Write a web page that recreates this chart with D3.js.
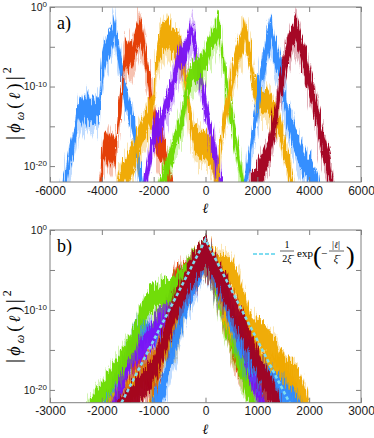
<!DOCTYPE html>
<html>
<head>
<meta charset="utf-8">
<script src="https://cdn.jsdelivr.net/npm/d3@7/dist/d3.min.js"></script>
<style>
  body { margin: 0; background: #fff; }
  svg text { font-family: "Liberation Sans", Arial, sans-serif; }
  svg .serif { font-family: "Liberation Serif", "DejaVu Serif", serif; }
  svg .ell { font-family: "DejaVu Serif", serif; font-style: italic; }
</style>
</head>
<body>
<div id="plot"></div>
<script>
// colours of the eight wave functions, in drawing order (last on top)
const seriesColors = ["#2e8bff", "#e43a00", "#f0a900", "#7a12f5", "#6cdc00", "#f0a900", "#2e8bff", "#a3001f"];
// peak positions (panel b is the same data shifted by these)
const peakCenters = [-3530, -2530, -1500, -530, 500, 1520, 2510, 3490];
// decades between upper envelope and lower edge of each noisy band
const spreads = [3, 3.5, 3.5, 3, 3, 3, 3.5, 3.5];

// upper envelopes: [ell, log10 |phi|^2]
const blue1 = [[-5600,-23],[-5490,-21.5],[-5360,-19.6],[-5230,-17.3],[-5100,-15.6],[-4970,-13.4],[-4900,-11.8],[-4840,-11.2],[-4760,-11.9],[-4680,-11.1],[-4600,-11.7],[-4520,-10.9],[-4440,-11.8],[-4360,-11.3],[-4280,-12.0],[-4200,-11.2],[-4100,-11.6],[-4040,-8.5],[-4000,-6.4],[-3880,-4.4],[-3780,-3.6],[-3690,-3.0],[-3600,-2.2],[-3530,-0.9],[-3470,-1.8],[-3370,-3.9],[-3240,-6.9],[-3110,-9.4],[-2980,-11.0],[-2850,-12.3],[-2750,-14.3],[-2660,-16.2],[-2560,-18.5],[-2460,-20.7],[-2380,-23]];
const red = [[-4200,-23],[-4100,-21.5],[-4010,-18.8],[-3950,-16.2],[-3880,-15.6],[-3800,-16.4],[-3720,-15.8],[-3640,-16.6],[-3560,-15.9],[-3480,-16.8],[-3420,-15.0],[-3360,-12.3],[-3240,-9.2],[-3150,-5.4],[-3080,-4.0],[-3000,-4.6],[-2920,-3.8],[-2840,-4.5],[-2760,-3.6],[-2640,-2.3],[-2530,-0.9],[-2450,-1.8],[-2370,-3.5],[-2210,-6.9],[-2080,-10.6],[-1950,-13.8],[-1850,-15.0],[-1750,-15.8],[-1650,-15.6],[-1550,-17.0],[-1420,-19.5],[-1300,-21.5],[-1220,-23]];
const orange1 = [[-3450,-23],[-3360,-20.9],[-3200,-19.4],[-3050,-18.6],[-2900,-17.9],[-2790,-17.2],[-2650,-15.8],[-2530,-14.8],[-2400,-13.6],[-2270,-12.8],[-2150,-11.8],[-2010,-10.6],[-1940,-8.0],[-1880,-5.0],[-1820,-4.0],[-1720,-2.6],[-1620,-2.2],[-1500,-1.3],[-1380,-2.1],[-1250,-2.7],[-1100,-3.0],[-990,-3.7],[-860,-5.5],[-730,-8.1],[-600,-12.0],[-470,-14.5],[-340,-15.2],[-200,-15.7],[-60,-15.3],[100,-16.2],[250,-16.9],[380,-18.6],[480,-21],[580,-23]];
const purple = [[-2450,-23],[-2340,-21.5],[-2240,-19.4],[-2140,-17.3],[-2010,-14.8],[-1890,-13.6],[-1760,-13.4],[-1620,-12.2],[-1500,-10.6],[-1380,-9.6],[-1240,-8.1],[-1110,-6.0],[-1000,-4.9],[-920,-4.4],[-820,-4.6],[-730,-3.9],[-630,-2.6],[-530,-1.1],[-450,-2.5],[-340,-5.2],[-240,-6.8],[-150,-8.1],[-50,-9.9],[50,-11.5],[140,-13.0],[240,-14.8],[330,-16.4],[430,-18.2],[530,-19.8],[620,-21.5],[700,-23]];
const green = [[-1850,-23],[-1760,-21.5],[-1560,-19.5],[-1370,-17.7],[-1240,-16.2],[-1110,-14.8],[-980,-13.4],[-860,-11.9],[-760,-9.8],[-660,-8.1],[-560,-7.3],[-470,-6.9],[-340,-6.4],[-210,-6.0],[-100,-5.7],[-20,-5.2],[80,-4.3],[170,-3.5],[270,-2.8],[370,-2.2],[500,-0.9],[570,-2.0],[630,-3.9],[750,-6.9],[850,-9.0],[950,-11.0],[1040,-12.8],[1140,-14.8],[1240,-16.8],[1330,-18.6],[1460,-21.5],[1520,-23]];
const orange2 = [[350,-23],[430,-21.5],[500,-19.0],[560,-16.5],[660,-14.2],[750,-12.3],[850,-10.5],[950,-8.9],[1040,-7.4],[1140,-6.0],[1240,-4.6],[1330,-3.5],[1430,-2.4],[1520,-1.1],[1600,-2.6],[1720,-4.8],[1850,-8.0],[1980,-10.0],[2100,-10.4],[2230,-10.6],[2360,-10.1],[2480,-10.9],[2600,-11.5],[2720,-12.4],[2880,-13.6],[3000,-15.5],[3130,-17.3],[3260,-19.2],[3390,-21.5],[3450,-23]];
const blue2 = [[1380,-23],[1460,-21.5],[1590,-19.4],[1720,-17.3],[1850,-13.6],[1980,-11.0],[2100,-8.1],[2230,-5.6],[2360,-3.5],[2440,-2.4],[2510,-0.9],[2600,-2.6],[2680,-3.9],[2780,-5.0],[2880,-6.0],[3000,-9.0],[3130,-11.5],[3260,-13.0],[3390,-14.4],[3550,-15.9],[3710,-17.3],[3900,-18.3],[4100,-19.4],[4250,-20.5],[4350,-21.5],[4420,-23]];
const darkred = [[1700,-23],[1780,-21.5],[1940,-20.2],[2100,-19.0],[2260,-17.8],[2420,-16.5],[2520,-15.0],[2620,-13.6],[2750,-11.0],[2880,-8.1],[2970,-6.8],[3070,-5.6],[3200,-3.5],[3330,-2.3],[3420,-1.6],[3490,-1.0],[3600,-2.4],[3710,-3.5],[3840,-5.2],[3940,-6.6],[4030,-8.1],[4130,-9.3],[4230,-10.6],[4320,-12.1],[4420,-13.6],[4510,-15.0],[4610,-16.5],[4710,-17.8],[4800,-19.0],[4930,-21.5],[5000,-23]];
const allSeries = [blue1, red, orange1, purple, green, orange2, blue2, darkred];

// dashed fit line in panel b: [ell, log10]
const fitLine = [[-1620,-21.6],[0,-1.2],[1620,-21.6]];

const xTicksA = [-6000, -4000, -2000, 0, 2000, 4000, 6000];
const xTicksB = [-3000, -2000, -1000, 0, 1000, 2000, 3000];
const yTicks = [-20, -15, -10, -5, 0];

const width = 374, height = 438;
const axisColor = "#808080";

const svg = d3.select("#plot").append("svg")
  .attr("width", width)
  .attr("height", height);
const defs = svg.append("defs");

// displacement filter that roughens the band edges into vertical spikes
function addNoise(id, seed, scale, freq) {
  const f = defs.append("filter").attr("id", id)
    .attr("x", "-20%").attr("y", "-20%").attr("width", "140%").attr("height", "140%")
    .attr("color-interpolation-filters", "sRGB");
  f.append("feTurbulence").attr("type", "fractalNoise").attr("baseFrequency", freq)
    .attr("numOctaves", 2).attr("seed", seed).attr("result", "noise");
  f.append("feColorMatrix").attr("in", "noise").attr("type", "matrix")
    .attr("values", "0.6 0 0 0 0.2  0 2.6 0 0 -0.8  0 0 0 0 0  0 0 0 0 1")
    .attr("result", "shift");
  f.append("feDisplacementMap").attr("in", "SourceGraphic").attr("in2", "shift")
    .attr("scale", scale).attr("xChannelSelector", "R").attr("yChannelSelector", "G");
}
addNoise("noiseFine", 3, 10, "0.8 0.03");
addNoise("noiseWide", 11, 14, "0.7 0.02");

function panel(p) {
  const x = d3.scaleLinear().domain(p.xDomain).range([p.left, p.right]);
  const y = d3.scaleLog().domain([10 ** p.yMin, 1]).range([p.bottom, p.top]);

  defs.append("clipPath").attr("id", "clip-" + p.key)
    .append("rect")
    .attr("x", p.left).attr("y", p.top)
    .attr("width", p.right - p.left).attr("height", p.bottom - p.top);

  const g = svg.append("g").attr("clip-path", `url(#clip-${p.key})`);

  allSeries.forEach((s, i) => {
    const sh = p.shift ? peakCenters[i] : 0;
    const band = (up, down) => d3.area()
      .x(d => x(d[0] - sh))
      .y1(d => y(10 ** (d[1] + up)))
      .y0(d => y(10 ** (d[1] - spreads[i] - down)));
    g.append("path")
      .attr("d", band(0.3, 1.2)(s))
      .attr("fill", seriesColors[i])
      .attr("opacity", 0.3)
      .attr("filter", "url(#noiseWide)");
    g.append("path")
      .attr("d", band(0, 0)(s))
      .attr("fill", seriesColors[i])
      .attr("opacity", 0.95)
      .attr("filter", "url(#noiseFine)");
  });

  if (p.fit) {
    g.append("path")
      .attr("d", d3.line().x(d => x(d[0])).y(d => y(10 ** d[1]))(fitLine))
      .attr("fill", "none")
      .attr("stroke", "#7fdcf0")
      .attr("stroke-width", 2.6)
      .attr("stroke-dasharray", "3.5,2.5");
  }

  const styleAxis = sel => {
    sel.select(".domain").remove();
    sel.selectAll(".tick line").attr("stroke", axisColor);
    sel.selectAll(".tick text").attr("fill", "#1a1a1a").attr("font-size", 12);
  };

  svg.append("g")
    .attr("transform", `translate(0,${p.bottom})`)
    .call(d3.axisBottom(x).tickValues(p.xTicks).tickSize(-5).tickPadding(p.xPad).tickFormat(d => String(d)))
    .call(styleAxis);
  svg.append("g")
    .attr("transform", `translate(0,${p.top})`)
    .call(d3.axisTop(x).tickValues(p.xTicks).tickSize(-5).tickFormat(""))
    .call(styleAxis);

  const yVals = yTicks.map(v => 10 ** v);
  const left = svg.append("g")
    .attr("transform", `translate(${p.left},0)`)
    .call(d3.axisLeft(y).tickValues(yVals).tickSize(-5).tickPadding(3))
    .call(styleAxis);
  left.selectAll(".tick text").each(function(d) {
    const e = Math.round(Math.log10(d));
    const t = d3.select(this).text(null).attr("font-size", 10.5);
    if (e % 10 !== 0) return;
    t.append("tspan").text("10");
    t.append("tspan").attr("dy", "-0.45em").attr("font-size", 8).text(e === 0 ? "0" : "-" + Math.abs(e));
  });
  svg.append("g")
    .attr("transform", `translate(${p.right},0)`)
    .call(d3.axisRight(y).tickValues(yVals).tickSize(-5).tickFormat(""))
    .call(styleAxis);

  svg.append("rect")
    .attr("x", p.left).attr("y", p.top)
    .attr("width", p.right - p.left).attr("height", p.bottom - p.top)
    .attr("fill", "none").attr("stroke", axisColor).attr("stroke-width", 1);

  // panel tag
  svg.append("text").attr("class", "serif")
    .attr("x", p.left + 7).attr("y", p.top + 22)
    .attr("font-size", 18).text(p.tag);

  // x label
  svg.append("text").attr("class", "ell")
    .attr("x", (p.left + p.right) / 2).attr("y", p.bottom + 31)
    .attr("text-anchor", "middle").attr("font-size", 14)
    .text("ℓ");

  // y label |phi_omega(l)|^2
  const yl = svg.append("text").attr("class", "serif")
    .attr("transform", `translate(20,${p.labelY}) rotate(-90)`)
    .attr("text-anchor", "middle").attr("font-size", 18).attr("letter-spacing", 3.2);
  yl.append("tspan").attr("font-size", 20).text("|");
  yl.append("tspan").attr("font-style", "italic").text("ϕ");
  yl.append("tspan").attr("font-style", "italic").attr("font-size", 12).attr("dy", 4).text("ω");
  yl.append("tspan").attr("dy", -4).text("(");
  yl.append("tspan").attr("class", "ell").attr("font-size", 16).text("ℓ");
  yl.append("tspan").text(")");
  yl.append("tspan").attr("font-size", 20).text("|");
  yl.append("tspan").attr("font-size", 12).attr("dy", -9).text("2");
}

panel({ key: "a", tag: "a)", xDomain: [-6000, 6000], xTicks: xTicksA, yMin: -22,
        left: 50, right: 361, top: 7, bottom: 182, xPad: 4, labelY: 102, shift: false, fit: false });
panel({ key: "b", tag: "b)", xDomain: [-3000, 3000], xTicks: xTicksB, yMin: -21.6,
        left: 50, right: 361, top: 230, bottom: 402.7, xPad: 4, labelY: 325, shift: true, fit: true });

// legend of the fit line in panel b
const lg = svg.append("g");
lg.append("line").attr("x1", 253).attr("x2", 277).attr("y1", 254).attr("y2", 254)
  .attr("stroke", "#7fdcf0").attr("stroke-width", 2).attr("stroke-dasharray", "4,2");
lg.append("text").attr("class", "serif").attr("x", 287).attr("y", 248).attr("text-anchor", "middle").attr("font-size", 10).text("1");
lg.append("line").attr("x1", 280).attr("x2", 294).attr("y1", 251).attr("y2", 251).attr("stroke", "#222").attr("stroke-width", 0.7);
const den = lg.append("text").attr("class", "serif").attr("x", 287).attr("y", 262).attr("text-anchor", "middle").attr("font-size", 10);
den.append("tspan").text("2");
den.append("tspan").attr("font-style", "italic").text("ξ̄");
lg.append("text").attr("class", "serif").attr("x", 297).attr("y", 257).attr("font-size", 11).text("exp");
lg.append("text").attr("class", "serif").attr("x", 313).attr("y", 264).attr("font-size", 26).text("(");
lg.append("text").attr("class", "serif").attr("x", 321).attr("y", 257).attr("font-size", 11).text("−");
const num = lg.append("text").attr("class", "serif").attr("x", 336).attr("y", 248).attr("text-anchor", "middle").attr("font-size", 10);
num.append("tspan").text("|");
num.append("tspan").attr("class", "ell").attr("font-size", 9).text("ℓ");
num.append("tspan").text("|");
lg.append("line").attr("x1", 329).attr("x2", 344).attr("y1", 251).attr("y2", 251).attr("stroke", "#222").attr("stroke-width", 0.7);
lg.append("text").attr("class", "serif").attr("x", 336).attr("y", 262).attr("text-anchor", "middle").attr("font-size", 10).attr("font-style", "italic").text("ξ̄");
lg.append("text").attr("class", "serif").attr("x", 346).attr("y", 264).attr("font-size", 26).text(")");
</script>
</body>
</html>
